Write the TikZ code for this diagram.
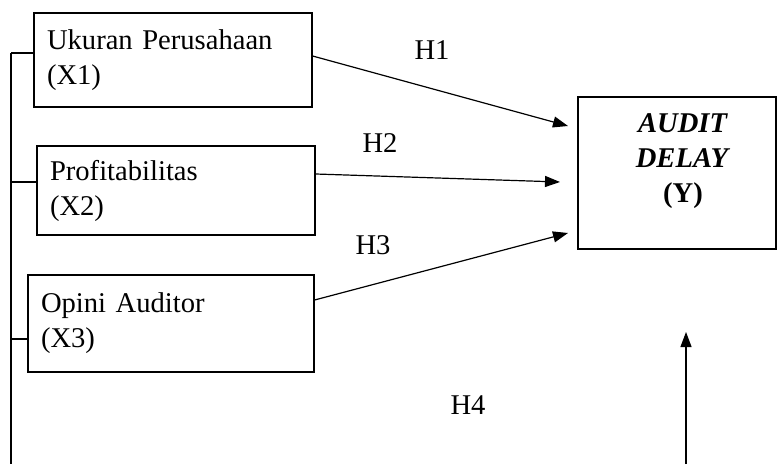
\documentclass[tikz,border=0pt]{standalone}
\usepackage{fontspec}
\setmainfont{Liberation Serif}
\usetikzlibrary{arrows.meta}
\begin{document}
\begin{tikzpicture}
[
    x=1pt, y=1pt,
    line width=1.2pt,
    every node/.style={font=\fontsize{28.6}{35}\selectfont},
    varbox/.style={draw, align=left, inner xsep=13pt, inner ysep=0pt},
    hyp/.style={-{Triangle[length=15pt,width=11pt]}}
]
    \useasboundingbox (0,0) rectangle (778,464);

    \node [varbox, text width=252pt, minimum height=94pt] (x1) at (173,404) {Ukuran Perusahaan\\(X1)};
    \node [varbox, text width=252pt, minimum height=89pt] (x2) at (176,273.5) {Profitabilitas\\(X2)};
    \node [varbox, text width=260pt, minimum height=97pt] (x3) at (171,140.5) {Opini Auditor\\(X3)};
    \node [draw, minimum width=198pt, minimum height=152pt] (y) at (677,291) {};
    \node [align=center] (ylabel) at ([xshift=6pt,yshift=12pt]y.center)
        {\textbf{\textit{AUDIT}}\\\textbf{\textit{DELAY}}\\\textbf{(Y)}};

    \coordinate (t1) at (568,338);
    \coordinate (t2) at (560,282);
    \coordinate (t3) at (568,231);
    \coordinate (t4) at (686,132);
    \coordinate (b4) at (686,0);
    \coordinate (top) at (11,411);
    \coordinate (bottom) at (11,0);

    \draw [hyp] (x1.east |- 0,408) -- (t1);
    \draw [hyp] (x2.east |- 0,290) -- (t2);
    \draw [hyp] (x3.east |- 0,164) -- (t3);
    \draw [hyp] (b4) -- (t4);

    \draw (top) -- (bottom);
    \draw (top) -- (x1.west |- top);
    \draw (11,282) -- (x2.west |- 0,282);
    \draw (11,125) -- (x3.west |- 0,125);

    \node (h1) at (432,414) {H1};
    \node (h2) at (380,321) {H2};
    \node (h3) at (373,219) {H3};
    \node (h4) at (468,59) {H4};
\end{tikzpicture}
\end{document}
